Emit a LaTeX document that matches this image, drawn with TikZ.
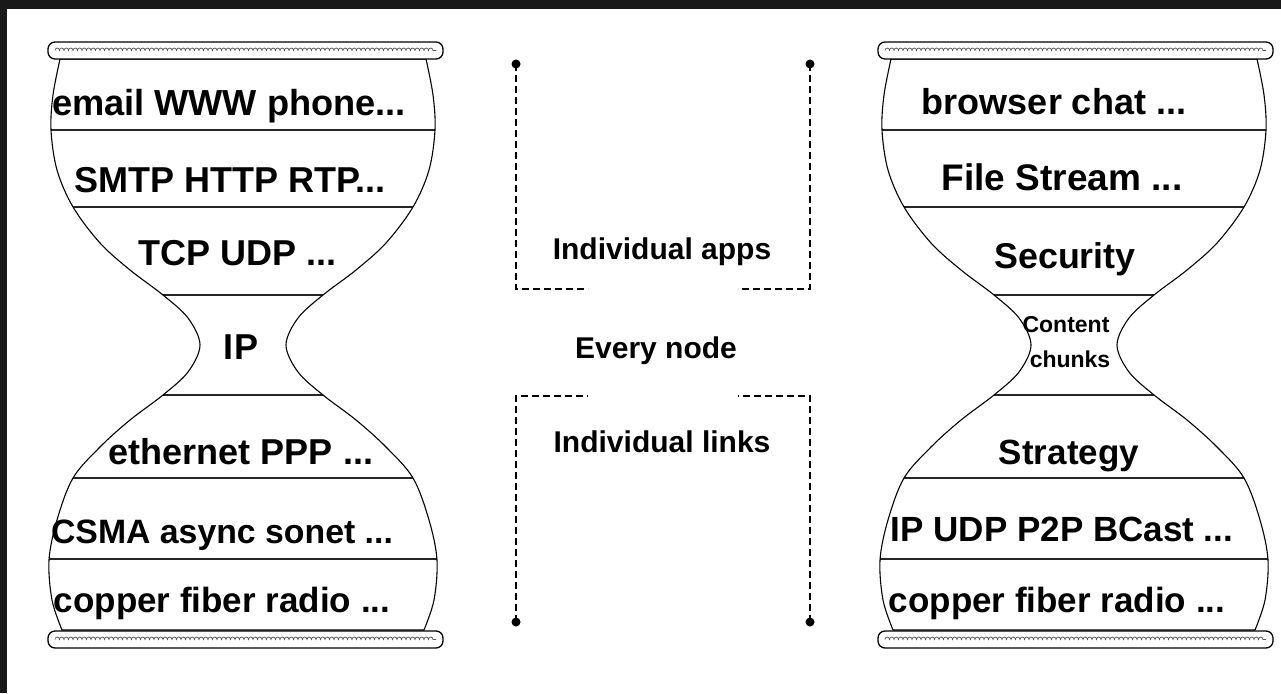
\documentclass[tikz,border=0pt]{standalone}
\usepackage{fontspec}
\setmainfont{Liberation Sans}
\usetikzlibrary{decorations.pathmorphing}
\tikzset{
 layer/.style={font=\fontsize{#1}{#1}\selectfont\bfseries, anchor=base, inner sep=0pt},
 layer/.default=35,
 midtext/.style={font=\fontsize{30}{34}\selectfont\bfseries, anchor=base, inner sep=0pt},
 smalltext/.style={font=\fontsize{23}{26}\selectfont\bfseries, anchor=base, inner sep=0pt},
 outline/.style={line width=1.1pt},
 sepline/.style={line width=1.5pt, black!85},
 capbox/.style={line width=1.3pt, rounded corners=7pt, fill=white},
 capwave/.style={black!65, line width=0.7pt, decorate, decoration={bumps, segment length=9pt, amplitude=2.5pt}},
 bracket/.style={dash pattern=on 7pt off 4pt, line width=1.4pt},
 dotnode/.style={circle, fill=black, inner sep=0pt, minimum size=9pt},
}
\begin{document}
\begin{tikzpicture}[x=1pt,y=-1pt]
\useasboundingbox (0,0) rectangle (1281,693);
\fill[white] (0,0) rectangle (1281,693);
\fill[black!90] (0,0) rectangle (1281,9);
\fill[black!90] (0,0) rectangle (7,693);

\foreach \sx in {0,831}{
\begin{scope}[xshift=\sx pt]
 \begin{scope}
  \clip plot[smooth, tension=0.55] coordinates {(60,59) (53,95) (51,130) (57,170) (73,207) (100,243) (130,270) (163,295) (188,318) (200,345) (188,372) (163,395) (130,420) (100,447) (73,478) (57,520) (49,560) (52,600) (62,630)} -- plot[smooth, tension=0.55] coordinates {(424,630) (434,600) (437,560) (429,520) (413,478) (386,447) (356,420) (323,395) (298,372) (286,345) (298,318) (323,295) (356,270) (386,243) (413,207) (429,170) (435,130) (433,95) (426,59)} -- cycle;
  \foreach \yy in {130,207,295,395,478,559} \draw[sepline] (0,\yy) -- (500,\yy);
 \end{scope}
 \draw[outline] plot[smooth, tension=0.55] coordinates {(60,59) (53,95) (51,130) (57,170) (73,207) (100,243) (130,270) (163,295) (188,318) (200,345) (188,372) (163,395) (130,420) (100,447) (73,478) (57,520) (49,560) (52,600) (62,630)} -- plot[smooth, tension=0.55] coordinates {(424,630) (434,600) (437,560) (429,520) (413,478) (386,447) (356,420) (323,395) (298,372) (286,345) (298,318) (323,295) (356,270) (386,243) (413,207) (429,170) (435,130) (433,95) (426,59)} -- cycle;
\end{scope}
}
% caps
\draw[capbox] (48,42) rectangle (443,59);
\draw[capwave] (55,50.5) -- (436,50.5);
\draw[capbox] (48,631) rectangle (443,648);
\draw[capwave] (55,639.5) -- (436,639.5);
\draw[capbox] (878,42) rectangle (1273,59);
\draw[capwave] (885,50.5) -- (1266,50.5);
\draw[capbox] (878,631) rectangle (1273,648);
\draw[capwave] (885,639.5) -- (1266,639.5);

% left labels
\node[layer=36.2] (l1) at (229,115) {email WWW phone...};
\node[layer=36] (l2) at (230,192) {SMTP HTTP RTP...};
\node[layer=36] (l3) at (238,265) {TCP UDP ...};
\node[layer=36] (l4) at (241,359) {IP};
\node[layer=36] (l5) at (241,464) {ethernet PPP ...};
\node[layer=33.8] (l6) at (222,543) {CSMA async sonet ...};
\node[layer=35] (l7) at (222,612) {copper fiber radio ...};

% right labels
\node[layer=36] (r1) at (1054,114) {browser chat ...};
\node[layer=37] (r2) at (1062,190) {File Stream ...};
\node[layer=35.8] (r3) at (1065,268) {Security};
\node[smalltext] (r4a) at (1066,332) {Content};
\node[smalltext] (r4b) at (1070,367) {chunks};
\node[layer=35] (r5) at (1069,464) {Strategy};
\node[layer=35] (r6) at (1062,541) {IP UDP P2P BCast ...};
\node[layer=35] (r7) at (1057,612) {copper fiber radio ...};

% middle
\node[midtext] (apps) at (662,259) {Individual apps};
\node[midtext] (every) at (656,358) {Every node};
\node[midtext] (links) at (662,452) {Individual links};

\node[dotnode] (d1) at (516,64) {};
\node[dotnode] (d2) at (810,64) {};
\node[dotnode] (d3) at (516,622) {};
\node[dotnode] (d4) at (810,622) {};
\coordinate (e1) at (588,289);
\coordinate (e2) at (738,289);
\coordinate (e3) at (588,396);
\coordinate (e4) at (738,396);
\draw[bracket] (d1.center) |- (e1);
\draw[bracket] (d2.center) |- (e2);
\draw[bracket] (d3.center) |- (e3);
\draw[bracket] (d4.center) |- (e4);
\end{tikzpicture}
\end{document}
